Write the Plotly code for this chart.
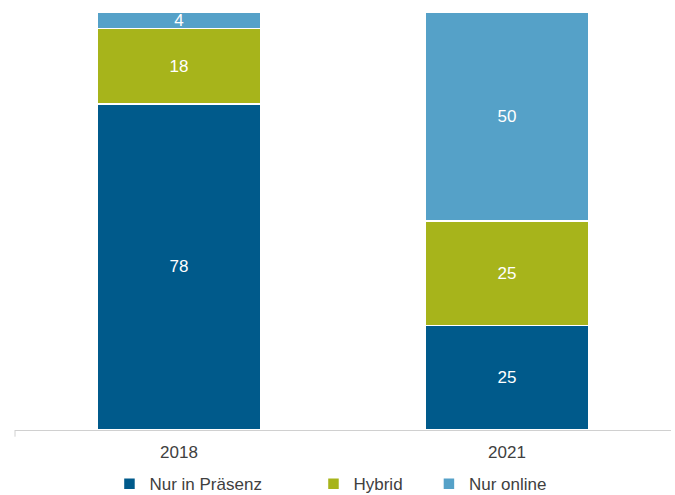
import plotly.graph_objects as go

years = ["2018", "2021"]
praesenz = [78, 25]
hybrid = [18, 25]
online = [4, 50]
series_names = ["Nur in Präsenz", "Hybrid", "Nur online"]
colors = ["#005A8B", "#A7B41B", "#55A1C8"]

FONT = "Liberation Sans, Arial"
fig = go.Figure()
legends = ["legend", "legend2", "legend3"]
for vals, name, col, lg in zip([praesenz, hybrid, online], series_names, colors, legends):
    fig.add_trace(go.Bar(
        x=years, y=vals, name=name, legend=lg,
        marker=dict(color=col, line=dict(color="white", width=1.5)),
        text=[str(v) for v in vals], textposition="inside", textangle=0,
        insidetextanchor="middle",
        textfont=dict(color="white", size=17, family=FONT),
    ))

leg_common = dict(orientation="h", yref="container", yanchor="middle", y=0.022,
                  xanchor="left",
                  font=dict(size=17, color="#404040", family=FONT),
                  bgcolor="rgba(0,0,0,0)", itemwidth=30)
fig.update_layout(
    barmode="stack",
    bargap=0.5,
    width=675, height=495,
    margin=dict(l=15, r=4, t=12, b=65, autoexpand=False),
    plot_bgcolor="white", paper_bgcolor="white",
    uniformtext=dict(minsize=17, mode="show"),
    showlegend=True,
    legend=dict(x=0.144, **leg_common),
    legend2=dict(x=0.455, **leg_common),
    legend3=dict(x=0.631, **leg_common),
    xaxis=dict(showline=True, linecolor="#D0D0D0", linewidth=1, ticks="",
               ticklabelstandoff=7,
               tickfont=dict(size=17, color="#404040", family=FONT)),
    yaxis=dict(range=[0, 100], visible=False),
    shapes=[dict(type="line", xref="paper", yref="paper", x0=0, x1=0, y0=0, y1=-0.016,
                 line=dict(color="#D0D0D0", width=1))],
)
fig.write_html("out.html")
